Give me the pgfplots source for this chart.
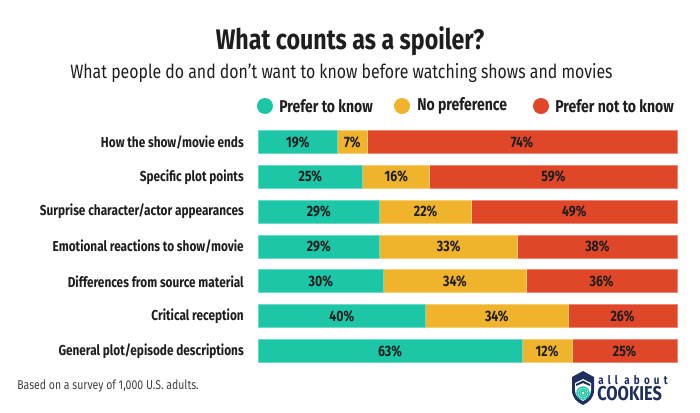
\documentclass[border=0pt]{standalone}
\usepackage{pgfplots}
\pgfplotsset{compat=1.18}
\usepackage{pgfplotstable}
\usepackage{fontspec}
\setmainfont{Fira Sans}[FakeStretch=0.82]
\definecolor{cteal}{HTML}{1DC6A6}
\definecolor{cyel}{HTML}{EFB42B}
\definecolor{cred}{HTML}{E04628}
\definecolor{navy}{HTML}{1E2F5E}
\definecolor{ink}{HTML}{1E1E1E}
\pgfplotstableread{
idx know none not
0 19 7 74
1 25 16 59
2 29 22 49
3 29 33 38
4 30 34 36
5 40 34 26
6 63 12 25
}\data
\pgfplotsset{
  seg/.style={fill=#1, draw=#1!65!white, line width=0.6pt},
  common/.style={at={(193.5pt,-93.45pt)}, anchor=north west, scale only axis,
    width=314.25pt, height=182.9pt, xmin=0, xmax=100, ymin=-0.5, ymax=6.5,
    y dir=reverse, axis line style={draw=none}, major tick length=0pt,
    xtick=\empty, clip=false},
  lab/.style={only marks, mark=none, point meta=explicit,
    nodes near coords={\pgfmathprintnumber[assume math mode=true]{\pgfplotspointmeta}\%},
    nodes near coords style={anchor=center, inner sep=0pt,
      font=\bfseries\fontsize{11.3}{13}\selectfont, text=ink}}
}
\begin{document}
\begin{tikzpicture}[x=0.75pt,y=-0.75pt]
\useasboundingbox (0,0) rectangle (700,412);
\begin{axis}[common, xbar stacked, bar width=17.25pt,
  ytick={0,...,6},
  yticklabels={How the show/movie ends, Specific plot points, Surprise character/actor appearances, Emotional reactions to show/movie, Differences from source material, Critical reception, General plot/episode descriptions},
  yticklabel style={font=\bfseries\fontsize{10.8}{13}\selectfont, text=ink, inner sep=0pt, xshift=-10.5pt}]
\addplot[seg=cteal] table[x=know,y=idx]{\data};
\addplot[seg=cyel] table[x=none,y=idx]{\data};
\addplot[seg=cred] table[x=not,y=idx]{\data};
\end{axis}
\begin{axis}[common, ytick=\empty]
\addplot[lab] table[x expr=\thisrow{know}/2, y=idx, meta=know]{\data};
\addplot[lab] table[x expr=\thisrow{know}+\thisrow{none}/2, y=idx, meta=none]{\data};
\addplot[lab] table[x expr=\thisrow{know}+\thisrow{none}+\thisrow{not}/2, y=idx, meta=not]{\data};
\end{axis}
% titles
\node[font=\bfseries\fontsize{21.2}{25}\selectfont, text=ink] at (350,41) {What counts as a spoiler?};
\node[font=\fontsize{14.5}{17}\selectfont, text=ink] at (341.5,73) {What people do and don't want to know before watching shows and movies};
% legend
\fill[cteal] (265,106) circle (8);
\fill[cyel] (402,106) circle (8);
\fill[cred] (541,106) circle (8);
\node[anchor=west, inner sep=0pt, font=\bfseries\fontsize{12.8}{14}\selectfont, text=ink] at (279,106) {Prefer to know};
\node[anchor=west, inner sep=0pt, font=\bfseries\fontsize{12.8}{14}\selectfont, text=ink] at (417,106) {No preference};
\node[anchor=west, inner sep=0pt, font=\bfseries\fontsize{12.8}{14}\selectfont, text=ink] at (555,106) {Prefer not to know};
% footer
\node[anchor=west, inner sep=0pt, font=\fontsize{9.6}{11}\selectfont, text=ink!85] at (17,386) {Based on a survey of 1,000 U.S. adults.};
% logo
\fill[navy] (572,377) -- (583,371) -- (594,377) -- (594,390) .. controls (594,398) and (589,402) .. (583,405) .. controls (577,402) and (572,398) .. (572,390) -- cycle;
\fill[white] (575,383) -- (583,379) -- (591,383) -- (591,390) .. controls (591,396) and (587,399) .. (583,401) .. controls (579,399) and (575,396) .. (575,390) -- cycle;
\fill[navy] (576,384) -- (583,380.5) -- (590,384) -- (590,386) -- (583,383) -- (576,386) -- cycle;
\foreach \r in {2,4,6}{\draw[cteal, line width=1.1pt] (583,393) circle (\r);}
\node[anchor=west, inner sep=0pt, font=\bfseries\fontsize{9}{10}\selectfont\addfontfeature{LetterSpace=35}, text=navy] at (598,380) {all about};
\node[anchor=west, inner sep=0pt, font=\bfseries\fontsize{15}{17}\selectfont, text=navy] at (597,394) {COOKIES};
\end{tikzpicture}
\end{document}
